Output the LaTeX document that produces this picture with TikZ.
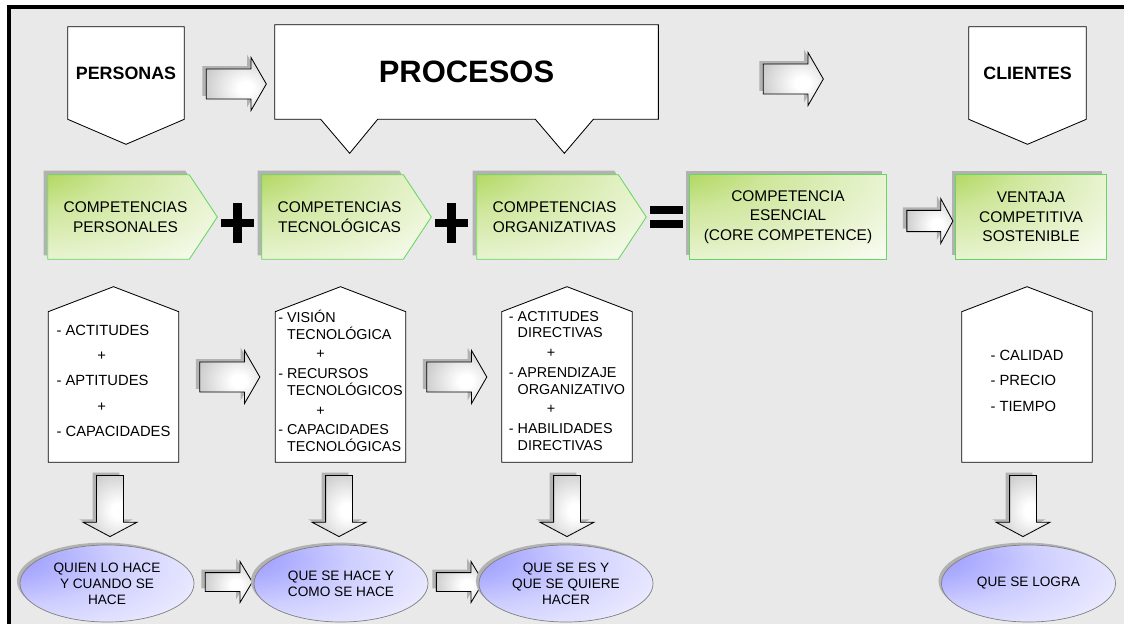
\documentclass[tikz,border=0pt]{standalone}
\usepackage{fontspec}
\setmainfont{Liberation Sans}
\usetikzlibrary{shapes.arrows,shapes.geometric,shadows,calc,backgrounds}

\definecolor{fondo}{RGB}{233,233,233}
\definecolor{sombra}{RGB}{178,178,178}
\definecolor{verdeborde}{RGB}{102,214,92}
\definecolor{verdefuerte}{RGB}{146,200,32}
\definecolor{azulfuerte}{RGB}{158,158,255}

\pgfdeclareradialshading{verdeesquina}{\pgfpoint{-48bp}{48bp}}{color(0bp)=(verdefuerte); color(6bp)=(verdefuerte); color(30bp)=(verdefuerte!45!white); color(65bp)=(white); color(100bp)=(white)}
\pgfdeclareradialshading{azulesquina}{\pgfpoint{-35bp}{20bp}}{color(0bp)=(azulfuerte); color(8bp)=(azulfuerte); color(28bp)=(azulfuerte!50!white); color(62bp)=(white); color(100bp)=(white)}
\pgfdeclareradialshading{grisflecha}{\pgfpoint{8bp}{-4bp}}{color(0bp)=(white); color(6bp)=(white); color(40bp)=(black!26); color(100bp)=(black!30)}

\begin{document}
\begin{tikzpicture}[
            x=0.025cm, y=-0.025cm,
            cabecera/.style={rectangle, inner sep=0pt, minimum width=2.9cm, minimum height=2.3cm, font=\fontsize{12.7}{15}\selectfont\bfseries},
            verde/.style={rectangle, inner sep=0pt, minimum height=2.1cm, align=center, font=\fontsize{11}{14}\selectfont},
            casa/.style={rectangle, inner sep=0pt, minimum width=3.25cm, minimum height=4.0625cm, align=left, font=\fontsize{10.2}{12}\selectfont},
            elipse/.style={ellipse, draw=black!50, line width=0.5pt, inner sep=0pt, minimum width=4.35cm, minimum height=1.925cm, shade, shading=azulesquina, align=center, font=\fontsize{9.7}{11.4}\selectfont, drop shadow={shadow xshift=-0.075cm, shadow yshift=0.06cm, fill=sombra, opacity=1}},
            contorno/.style={draw=black, line width=0.6pt, fill=white},
            pentverde/.style={draw=verdeborde, line width=0.6pt, shade, shading=verdeesquina, drop shadow={shadow xshift=-0.1cm, shadow yshift=0.1cm, fill=sombra, opacity=1}},
            flecha/.style={single arrow, draw=black, line width=0.6pt, inner sep=0.3625cm, shade, shading=grisflecha, minimum height=1.5cm, minimum width=1.3cm, single arrow head extend=0.2875cm, single arrow tip angle=120, drop shadow={shadow xshift=-0.1cm, shadow yshift=0.075cm, fill=sombra, opacity=1}},
            flechab/.style={flecha, shape border rotate=270, inner sep=0.325cm, minimum height=1.525cm, minimum width=1.325cm, single arrow head extend=0.3375cm, single arrow tip angle=124},
            signo/.style={line width=0.22cm}
        ]

\useasboundingbox (0,0) rectangle (1124,624);

% Top row: who, what, for whom
            \node (personas) [cabecera] at (126,73) {PERSONAS};
            \node (f1) [flecha] at (232,84) {};
            \node (procesos) [cabecera, minimum width=9.575cm, minimum height=2.35cm, font=\fontsize{22}{26}\selectfont\bfseries] at (466.5,72) {PROCESOS};
            \node (f2) [flecha] at (789,79) {};
            \node (clientes) [cabecera, minimum width=2.925cm] at (1027.5,73) {CLIENTES};

% Competences row
            \node (cpers) [verde, minimum width=3.875cm] at (125.5,217) {COMPETENCIAS\\PERSONALES};
            \node (ctec) [verde, minimum width=3.875cm] at (339.5,217) {COMPETENCIAS\\TECNOLÓGICAS};
            \node (corg) [verde, minimum width=3.875cm] at (554.5,217) {COMPETENCIAS\\ORGANIZATIVAS};
            \node (cesen) [verde, minimum width=4.9cm] at (788,217) {COMPETENCIA\\ESENCIAL\\(CORE COMPETENCE)};
            \node (f3) [flecha, inner sep=0.256cm, minimum height=1.15cm, minimum width=1.1cm, single arrow head extend=0.29cm, single arrow tip angle=123] at (927,221) {};
            \node (ventaja) [verde, minimum width=3.75cm] at (1031,217) {VENTAJA\\COMPETITIVA\\SOSTENIBLE};

% Houses with the components
            \node (casa1) [casa, font=\fontsize{10.5}{18}\selectfont] at (113.5,380.75) {- ACTITUDES\\ \hspace*{29pt}+\\ - APTITUDES\\ \hspace*{29pt}+\\ - CAPACIDADES};
            \node (f4) [flecha] at (225.5,377) {};
            \node (casa2) [casa] at (340.5,380.75) {- VISIÓN\\ \phantom{- }TECNOLÓGICA\\[2pt] \hspace*{27pt}+\\[2pt] - RECURSOS\\ \phantom{- }TECNOLÓGICOS\\[2pt] \hspace*{27pt}+\\[2pt] - CAPACIDADES\\ \phantom{- }TECNOLÓGICAS};
            \node (f5) [flecha] at (452.5,377) {};
            \node (casa3) [casa] at (567,380.75) {- ACTITUDES\\ \phantom{- }DIRECTIVAS\\[2pt] \hspace*{27pt}+\\[2pt] - APRENDIZAJE\\ \phantom{- }ORGANIZATIVO\\[2pt] \hspace*{27pt}+\\[2pt] - HABILIDADES\\ \phantom{- }DIRECTIVAS};
            \node (casa4) [casa, font=\fontsize{10.5}{18}\selectfont] at (1027,380.75) {- CALIDAD\\ - PRECIO\\ - TIEMPO};

% Down arrows
            \node (b1) [flechab] at (110,502.5) {};
            \node (b2) [flechab] at (339,502.5) {};
            \node (b3) [flechab] at (567,502.5) {};
            \node (b4) [flechab] at (1023,502.5) {};

% Bottom ellipses
            \node (e1) [elipse] at (107,583.5) {QUIEN LO HACE\\Y CUANDO SE\\HACE};
            \node (r1) [flecha, inner sep=0.225cm, minimum height=1.175cm, minimum width=1cm, single arrow head extend=0.275cm, single arrow tip angle=118] at (226,582) {};
            \node (e2) [elipse] at (341,583.5) {QUE SE HACE Y\\COMO SE HACE};
            \node (r2) [flecha, inner sep=0.225cm, minimum height=1.175cm, minimum width=1cm, single arrow head extend=0.275cm, single arrow tip angle=118] at (457,582) {};
            \node (e3) [elipse] at (566,583.5) {QUE SE ES Y\\QUE SE QUIERE\\HACER};
            \node (e4) [elipse] at (1028.5,583.5) {QUE SE LOGRA};

\begin{scope}[on background layer]
% Frame and background
            \fill [fondo] (9,7) rectangle (1124,624);
            \draw [line width=0.1cm] (9,624) -- (9,7) -- (1124,7);

% Top pentagons and the callout
            \draw [contorno] (personas.north west) -- (personas.north east) -- (personas.south east) -- ($(personas.south)+(0,25)$) -- (personas.south west) -- cycle;
            \draw [contorno] (clientes.north west) -- (clientes.north east) -- (clientes.south east) -- ($(clientes.south)+(0,25)$) -- (clientes.south west) -- cycle;
            \draw [contorno] (procesos.north west) -- (procesos.north east) -- (procesos.south east)
                -- ($(procesos.south east)+(-65,0)$) -- ($(procesos.south east)+(-94,34)$) -- ($(procesos.south east)+(-123,0)$)
                -- ($(procesos.south west)+(103,0)$) -- ($(procesos.south west)+(75,34)$) -- ($(procesos.south west)+(46,0)$)
                -- (procesos.south west) -- cycle;

% Green boxes
            \draw [pentverde] (cpers.north west) -- ($(cpers.north east)+(-14,0)$) -- ($(cpers.east)+(14,0)$) -- ($(cpers.south east)+(-14,0)$) -- (cpers.south west) -- cycle;
            \draw [pentverde] (ctec.north west) -- ($(ctec.north east)+(-14,0)$) -- ($(ctec.east)+(14,0)$) -- ($(ctec.south east)+(-14,0)$) -- (ctec.south west) -- cycle;
            \draw [pentverde] (corg.north west) -- ($(corg.north east)+(-14,0)$) -- ($(corg.east)+(14,0)$) -- ($(corg.south east)+(-14,0)$) -- (corg.south west) -- cycle;
            \draw [pentverde] (cesen.north west) rectangle (cesen.south east);
            \draw [pentverde] (ventaja.north west) rectangle (ventaja.south east);

% Plus and equals signs
            \draw [signo] (221,223) -- (254,223) (237.5,203) -- (237.5,243);
            \draw [signo] (435,223) -- (468,223) (451.5,203) -- (451.5,243);
            \draw [signo, line width=0.18cm] (650,210) -- (683,210) (650,224) -- (683,224);

% Houses
            \draw [contorno] (casa1.south west) -- ($(casa1.north west)+(0,12.5)$) -- ($(casa1.north)+(0,-12.5)$) -- ($(casa1.north east)+(0,12.5)$) -- (casa1.south east) -- cycle;
            \draw [contorno] (casa2.south west) -- ($(casa2.north west)+(0,12.5)$) -- ($(casa2.north)+(0,-12.5)$) -- ($(casa2.north east)+(0,12.5)$) -- (casa2.south east) -- cycle;
            \draw [contorno] (casa3.south west) -- ($(casa3.north west)+(0,12.5)$) -- ($(casa3.north)+(0,-12.5)$) -- ($(casa3.north east)+(0,12.5)$) -- (casa3.south east) -- cycle;
            \draw [contorno] (casa4.south west) -- ($(casa4.north west)+(0,12.5)$) -- ($(casa4.north)+(0,-12.5)$) -- ($(casa4.north east)+(0,12.5)$) -- (casa4.south east) -- cycle;
\end{scope}

        \end{tikzpicture}
\end{document}
